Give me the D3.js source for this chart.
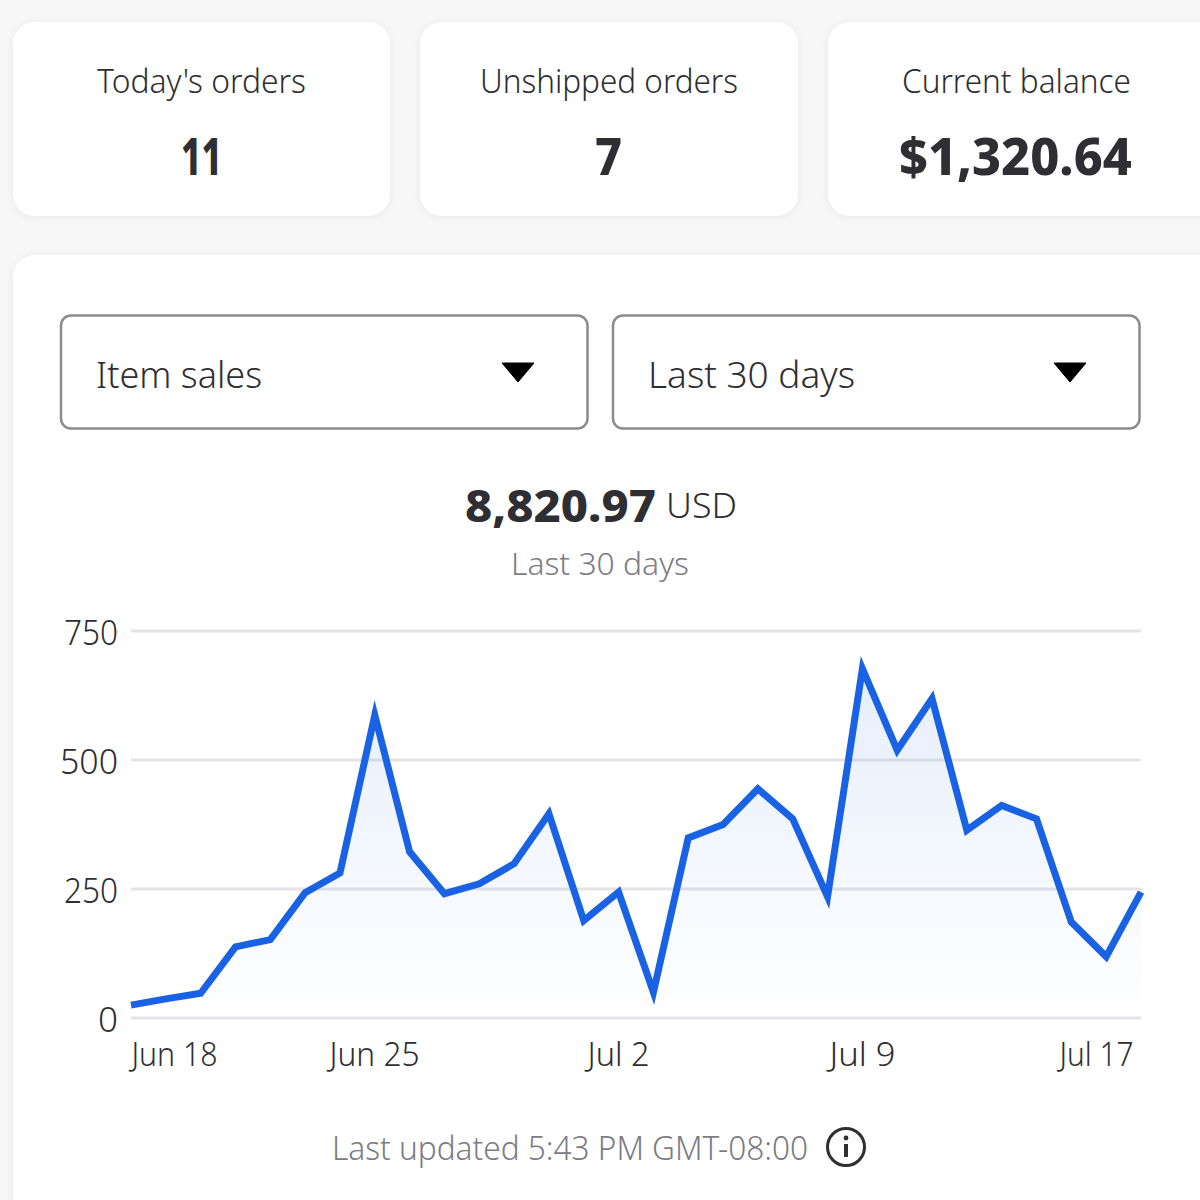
<!DOCTYPE html>
<html><head><meta charset="utf-8">
<script src="https://cdn.jsdelivr.net/npm/d3@7"></script>
<style>
html,body{margin:0;padding:0;background:#f7f7f7;overflow:hidden}
svg{display:block}
text{font-family:"Noto Sans",sans-serif;fill:#2e2e33}
.domain{display:none}
</style></head><body>
<svg id="c" width="1200" height="1200"></svg>
<script>
const startDate = "2023-06-18";
const sales = [25,37,48,138,152,243,281,587,322,241,260,299,396,189,244,50,349,375,444,386,235,677,519,619,364,412,386,186,119,244];
const yTicks = [0,250,500,750];
const xTickDates = ["2023-06-18","2023-06-25","2023-07-02","2023-07-09","2023-07-17"];
const statLabels = ["Today's orders","Unshipped orders","Current balance"];
const statValues = ["11","7","$1,320.64"];
const dropdownLabels = ["Item sales","Last 30 days"];
const totalValue = "8,820.97";
const totalUnit = "USD";
const rangeLabel = "Last 30 days";
const updatedLabel = "Last updated 5:43 PM GMT-08:00";

const parse = d3.utcParse("%Y-%m-%d");
const svg = d3.select("#c");
const defs = svg.append("defs");
const sh = defs.append("filter").attr("id","sh").attr("x","-5%").attr("y","-5%").attr("width","110%").attr("height","110%");
sh.append("feDropShadow").attr("dx",0).attr("dy",1).attr("stdDeviation",4).attr("flood-color","#000").attr("flood-opacity",0.06);
const gr = defs.append("linearGradient").attr("id","fade").attr("x1",0).attr("x2",0).attr("y1",0).attr("y2",1);
gr.append("stop").attr("offset","0%").attr("stop-color","#1a62e4").attr("stop-opacity",0.11);
gr.append("stop").attr("offset","100%").attr("stop-color","#1a62e4").attr("stop-opacity",0);

function put(str,x,y,size,width,opts={}){
  return svg.append("text").text(str).attr("x",x).attr("y",y).attr("text-anchor","middle")
    .attr("font-size",size).attr("font-weight",opts.weight||400)
    .attr("textLength",width).attr("lengthAdjust","spacingAndGlyphs")
    .style("fill",opts.fill||"#2e2e33");
}

// stat cards
const cardX=[13,420,828], cardW=[377,378,400];
const labelW=[209,258,229], valueW=[41,27,233], labelC=[201.5,609,1016.5], valueC=[201.5,608.5,1015.5];
statLabels.forEach((l,i)=>{
  svg.append("rect").attr("x",cardX[i]).attr("y",22).attr("width",cardW[i]).attr("height",194).attr("rx",22).attr("fill","#fff").attr("filter","url(#sh)");
  put(l,labelC[i],93,33,labelW[i],{weight:300});
  put(statValues[i],valueC[i],175,52,valueW[i],{weight:800});
});

// main card
svg.append("rect").attr("x",13).attr("y",255).attr("width",1220).attr("height",1000).attr("rx",22).attr("fill","#fff").attr("filter","url(#sh)");

// dropdowns
const ddX=[61,613], ddTextW=[166,207];
dropdownLabels.forEach((l,i)=>{
  svg.append("rect").attr("x",ddX[i]).attr("y",315.5).attr("width",526.5).attr("height",113).attr("rx",10).attr("fill","#fff").attr("stroke","#8c8c90").attr("stroke-width",2.5);
  put(l,ddX[i]+35+ddTextW[i]/2,388,37,ddTextW[i],{weight:300});
  const cx=ddX[i]+457;
  svg.append("path").attr("d",d3.line()([[cx-16,363],[cx+16,363],[cx,382]])+"Z").attr("fill","#000").attr("stroke","#000").attr("stroke-width",1).attr("stroke-linejoin","round");
});

// headline
put(totalValue,560.5,522,45,191,{weight:800});
put(totalUnit,701.5,518,34,71,{weight:300});
put(rangeLabel,600,575,31,178,{weight:300,fill:"#7c7c84"});

// chart
const dates = sales.map((_,i)=>d3.utcDay.offset(parse(startDate),i));
const x = d3.scaleUtc().domain(d3.extent(dates)).range([131,1141]);
const y = d3.scaleLinear().domain([0,750]).range([1018,631]);

const yAxis = svg.append("g").attr("transform","translate(131,0)")
  .call(d3.axisLeft(y).tickValues(yTicks).tickSize(0).tickPadding(13));
yAxis.selectAll("text").attr("dy",null).attr("y",13).attr("font-size",34).attr("font-weight",300).style("font-family",'"Noto Sans",sans-serif');
const yWidths={0:20,250:54,500:58,750:54};
yAxis.selectAll("text").attr("textLength",d=>yWidths[d]).attr("lengthAdjust","spacingAndGlyphs");

svg.append("g").selectAll("line").data(yTicks).join("line")
  .attr("x1",x.range()[0]).attr("x2",x.range()[1]).attr("y1",d=>y(d)).attr("y2",d=>y(d))
  .attr("stroke","#e4e4e8").attr("stroke-width",3);

svg.append("path").datum(sales)
  .attr("d",d3.area().x((d,i)=>x(dates[i])).y0(y(0)).y1(d=>y(d)))
  .attr("fill","url(#fade)");
svg.append("path").datum(sales)
  .attr("d",d3.line().x((d,i)=>x(dates[i])).y(d=>y(d)))
  .attr("fill","none").attr("stroke","#1a62e4").attr("stroke-width",7).attr("stroke-linejoin","miter").attr("stroke-miterlimit",10);

const xAxis = svg.append("g").attr("transform","translate(0,1018)")
  .call(d3.axisBottom(x).tickValues(xTickDates.map(parse)).tickSize(0).tickFormat(d3.utcFormat("%b %-d")));
const xCenters=[174,374,618,862,1096], xWidths=[86,90,62,66,74];
xAxis.selectAll("text").attr("dy",null).attr("y",48).attr("font-size",33).attr("font-weight",300)
  .style("font-family",'"Noto Sans",sans-serif')
  .attr("x",(d,i)=>xCenters[i]-x(d))
  .attr("textLength",(d,i)=>xWidths[i]).attr("lengthAdjust","spacingAndGlyphs");

// footer
put(updatedLabel,570,1160,33,476,{weight:300,fill:"#7c7c84"});
svg.append("circle").attr("cx",846).attr("cy",1147).attr("r",18.5).attr("fill","none").attr("stroke","#2e2e33").attr("stroke-width",3);
svg.append("circle").attr("cx",846).attr("cy",1138).attr("r",2.4).attr("fill","#2e2e33");
svg.append("rect").attr("x",844).attr("y",1144).attr("width",4).attr("height",13).attr("fill","#2e2e33");
</script>
</body></html>
